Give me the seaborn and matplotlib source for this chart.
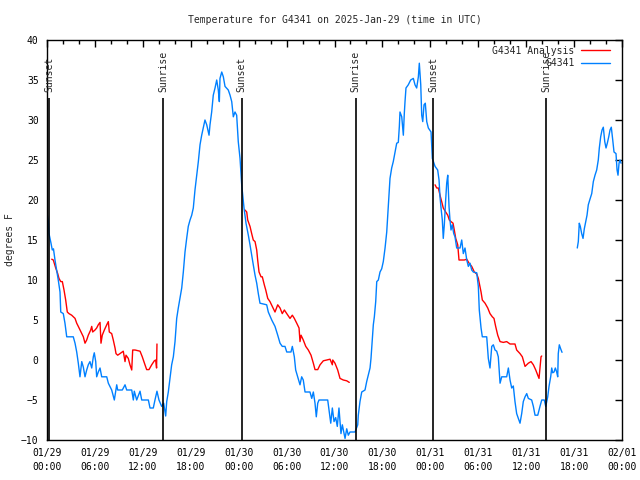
import matplotlib
matplotlib.use('Agg')
import matplotlib.pyplot as plt
import matplotlib.dates as mdates
from matplotlib.ticker import MultipleLocator
import numpy as np
import pandas as pd
import seaborn as sns

start = pd.Timestamp('2025-01-29 00:00')
nan = np.nan

# G4341 station: hours after 01/29 00:00 UTC, deg F (nan = gap in data)
obs_hours = [
    0.05, 0.16, 0.25, 0.5, 0.66, 0.81, 1.0, 1.21, 1.41, 1.63, 1.72, 2.04, 2.25, 2.47,
    3.29, 3.51, 3.72, 3.92, 4.13, 4.35, 4.55, 4.76, 4.97, 5.17, 5.38, 5.6, 5.8, 5.92,
    6.1, 6.22, 6.42, 6.64, 6.85, 7.48, 7.68, 8.1, 8.43, 8.73, 8.85, 9.43, 9.77, 9.98,
    10.61, 10.81, 10.93, 11.23, 11.65, 11.86, 12.69, 12.9, 13.31, 13.52, 13.77, 14.02,
    14.36, 14.61, 14.86, 14.99, 15.19, 15.4, 15.61, 15.82, 16.03, 16.24, 16.44, 16.65,
    16.87, 17.07, 17.28, 17.49, 17.69, 17.91, 18.12, 18.32, 18.53, 18.75, 18.95, 19.16,
    19.37, 19.57, 19.78, 20.0, 20.29, 20.41, 20.62, 20.82, 21.04, 21.25, 21.45, 21.58,
    21.66, 21.88, 22.08, 22.29, 22.7, 22.92, 23.13, 23.33, 23.54, 23.75, 23.95, 24.17,
    24.38, 24.51, 24.67, 24.92, 25.21, 25.42, 25.63, 25.83, 26.05, 26.26, 26.46, 26.67,
    27.51, 27.71, 28.14, 28.55, 28.89, 29.18, 29.46, 29.8, 30.02, 30.55, 30.72, 30.97,
    31.14, 31.39, 31.68, 31.89, 32.09, 32.31, 32.93, 33.15, 33.35, 33.56, 33.72, 33.9,
    34.06, 35.15, 35.31, 35.53, 35.73, 35.94, 36.15, 36.35, 36.56, 36.81, 36.98, 37.32,
    37.53, 37.73, 37.94, 38.57, 38.91, 38.98, 39.19, 39.41, 39.82, 40.03, 40.23, 40.45,
    40.57, 40.74, 40.86, 40.99, 41.16, 41.29, 41.49, 41.7, 41.91, 42.11, 42.33, 42.54,
    42.66, 42.83, 42.95, 43.16, 43.36, 43.58, 43.79, 43.99, 44.12, 44.2, 44.42, 44.62,
    44.74, 44.83, 44.95, 45.24, 45.54, 45.87, 46.08, 46.29, 46.5, 46.62, 46.8, 46.92,
    47.05, 47.21, 47.37, 47.55, 47.75, 48.09, 48.25, 48.59, 48.92, 49.09, 49.21, 49.34,
    49.5, 49.62, 49.75, 49.92, 50.05, 50.18, 50.34, 50.46, 50.59, 50.75, 50.93, 51.09,
    51.3, 51.72, 51.93, 52.13, 52.34, 52.56, 52.76, 52.97, 53.18, 53.38, 53.81, 54.01,
    54.13, 54.35, 54.51, 55.06, 55.26, 55.47, 55.69, 55.89, 56.1, 56.31, 56.51, 56.73,
    56.94, 57.56, 57.77, 57.98, 58.19, 58.39, 58.6, 58.81, 59.02, 59.23, 59.44, 59.64,
    59.86, 60.07, 60.27, 60.69, 60.9, 61.11, 61.45, 61.73, 61.95, 62.27, 62.45, 62.7,
    62.86, 63.07, 63.2, 63.32, 63.49, 63.65, 63.82, 63.95, 64.02, 64.15, 64.32, 64.49,
    65.4,
    66.4, 66.53, 66.65, 66.78, 66.95, 67.12, 67.28, 67.46, 67.62, 67.78, 67.99, 68.21,
    68.41, 68.62, 68.83, 69.03, 69.16, 69.33, 69.5, 69.66, 69.84, 70.0, 70.16, 70.34,
    70.5, 70.66, 70.84, 71.0, 71.25, 71.38, 71.5, 71.63, 71.75, 71.88,
]
obs_temps = [
    18.1, 17.4, 15.8, 14.6, 13.75, 13.9, 12.5, 11.25, 10.0, 8.5, 6.0, 5.8, 4.6, 2.9,
    2.9, 2.1, 1.0, -0.4, -2.1, -0.2, -0.9, -2.1, -1.25, -0.6, -0.2, -1.0, 0.4, 0.9,
    -0.2, -2.1, -1.5, -1.0, -2.1, -2.1, -2.9, -3.75, -5.0, -3.1, -3.75, -3.75, -3.1, -3.75,
    -3.75, -5.0, -3.9, -5.0, -3.9, -5.0, -5.0, -6.0, -6.0, -5.0, -3.9, -5.0,
    -5.8, -5.4, -7.0, -5.2, -4.0, -2.3, -0.6, 0.4, 2.3, 5.2, 6.5, 7.7,
    9.0, 11.0, 13.5, 15.2, 16.7, 17.5, 18.1, 19.0, 21.25, 23.1, 24.8, 26.9,
    28.1, 29.0, 30.0, 29.4, 28.1, 29.4, 31.0, 33.1, 34.0, 35.0, 33.75, 32.3,
    35.2, 36.0, 35.4, 34.2, 33.75, 33.1, 32.3, 30.4, 31.0, 30.6, 27.3, 25.2,
    21.9, 20.6, 19.0, 17.1, 15.6, 14.4, 13.1, 11.9, 10.6, 9.6, 8.3, 7.1,
    6.9, 6.0, 5.0, 4.2, 3.1, 2.1, 1.7, 1.7, 1.0, 1.0, 1.7, 0.4,
    -1.25, -2.1, -3.1, -2.1, -2.5, -4.0, -4.0, -4.8, -4.0, -5.4, -7.1, -5.4,
    -5.0, -5.0, -6.25, -7.9, -6.0, -7.7, -7.2, -8.3, -6.0, -9.2, -8.1, -9.8,
    -8.6, -9.4, -9.0, -9.0, -8.1, -6.9, -5.2, -4.0, -3.75, -2.7, -1.9, -1.0,
    0.2, 2.7, 4.4, 5.4, 7.3, 9.8, 10.0, 11.0, 11.4, 12.3, 14.0, 16.0,
    17.9, 20.6, 22.7, 24.0, 24.8, 26.0, 27.1, 27.2, 29.2, 31.0, 30.4, 28.1,
    30.8, 32.3, 34.0, 34.4, 35.0, 35.2, 34.4, 34.0, 35.4, 37.1, 34.4, 30.6,
    29.8, 31.9, 32.1, 29.8, 29.0, 28.5, 25.2, 24.2, 23.75, 22.5, 20.4, 19.0,
    17.5, 15.2, 16.9, 20.0, 22.1, 23.1, 19.2, 17.5, 16.25, 16.9, 15.8, 15.4,
    14.0, 14.0, 15.0, 13.3, 14.0, 12.5, 11.7, 12.1, 11.25, 11.0, 10.9, 9.2,
    6.25, 4.0, 2.9, 2.9, 0.2, -1.0, 1.7, 1.9, 1.25, 1.1, 0.4, -2.9,
    -2.1, -2.1, -1.0, -2.5, -3.5, -3.25, -5.2, -6.7, -7.3, -7.9, -6.7, -5.2,
    -4.6, -4.2, -4.8, -5.0, -5.8, -6.9, -6.9, -5.8, -5.0, -5.0, -5.8, -4.6,
    -3.3, -2.1, -1.0, -1.6, -1.5, -1.0, -1.5, -2.1, 0.8, 1.9, 1.4, 0.96,
    nan,
    14.0, 14.8, 17.1, 16.7, 15.8, 15.2, 16.4, 17.3, 18.1, 19.4, 20.1, 20.8,
    22.3, 23.1, 23.75, 25.0, 26.5, 27.9, 28.75, 29.1, 27.3, 26.5, 27.1, 27.9,
    28.75, 29.1, 27.5, 26.0, 25.8, 23.75, 23.1, 24.6, 25.0, 24.6,
]

# G4341 Analysis
ana_hours = [
    0.59, 0.79, 1.09, 1.34, 1.5, 1.72, 1.92, 2.13, 2.34, 2.54, 2.75, 3.09, 3.51, 3.72,
    3.92, 4.26, 4.55, 4.76, 4.97, 5.17, 5.47, 5.6, 5.72, 6.01, 6.22, 6.42, 6.64, 6.76,
    6.92, 7.18, 7.48, 7.68, 7.8, 8.1, 8.3, 8.52, 8.64, 8.85, 9.14, 9.55, 9.77, 9.89,
    10.18, 10.39, 10.61, 10.73, 11.02, 11.65, 11.93, 12.27, 12.48, 12.77, 13.11, 13.44,
    13.61, 13.72, 13.77,
    19.0,
    24.79, 25.01, 25.13, 25.42, 25.63, 25.83, 26.05, 26.26, 26.38, 26.55, 26.8, 26.96,
    27.21, 27.39, 27.64, 27.92, 28.21, 28.55, 28.89, 29.18, 29.46, 29.72, 30.02, 30.43,
    30.72, 30.97, 31.27, 31.56, 31.68, 31.81, 32.09, 32.4, 32.72, 33.06, 33.35, 33.56,
    33.9, 34.19, 34.6, 35.03, 35.44, 35.73, 35.78, 36.06, 36.4, 36.69, 37.1, 37.53,
    37.85,
    43.0,
    48.59, 48.8, 49.0, 49.21, 49.42, 49.62, 49.92, 50.18, 50.38, 50.59, 50.84, 51.0,
    51.18, 51.43, 51.59, 51.93, 52.26, 52.56, 52.85, 53.18, 53.51, 53.81, 54.01, 54.13,
    54.35, 54.51, 54.85, 55.19, 55.47, 55.76, 55.97, 56.18, 56.44, 56.73, 57.14, 57.56,
    57.98, 58.6, 58.81, 59.23, 59.52, 59.86, 60.27, 60.61, 60.9, 61.2, 61.45, 61.61,
    61.73, 61.86, 61.95,
]
ana_temps = [
    12.6, 12.5, 11.5, 10.8, 10.2, 9.8, 9.8, 8.75, 7.5, 6.0, 5.8, 5.6, 5.2, 4.6,
    4.2, 3.5, 2.9, 2.1, 2.5, 3.1, 3.75, 4.2, 3.5, 3.75, 4.0, 4.4, 4.7, 2.1,
    3.1, 3.75, 4.4, 4.8, 3.5, 3.3, 2.5, 1.5, 0.8, 0.6, 0.8, 1.1, -0.2, 0.6,
    0.2, -0.6, -1.25, 1.25, 1.25, 1.1, 0.4, -0.6, -1.2, -1.2, -0.6, -0.1,
    0.0, -1.0, 2.0,
    nan,
    18.75, 18.5, 17.5, 16.7, 15.8, 15.0, 14.8, 13.75, 12.5, 11.0, 10.4, 10.4,
    9.4, 8.75, 7.7, 7.3, 6.7, 6.0, 6.9, 6.5, 5.8, 6.25, 5.8, 5.2,
    5.6, 5.2, 4.6, 4.0, 2.3, 3.1, 2.5, 1.7, 1.25, 0.6, -0.4, -1.2,
    -1.2, -0.6, -0.1, 0.0, 0.1, -0.6, 0.0, -0.4, -1.25, -2.3, -2.5, -2.6,
    -2.8,
    nan,
    21.9, 21.5, 21.5, 20.6, 19.8, 19.0, 18.5, 18.1, 17.5, 17.3, 17.1, 16.25,
    15.2, 14.4, 12.5, 12.5, 12.5, 12.6, 12.1, 11.7, 11.0, 10.75, 10.2, 9.6,
    8.5, 7.5, 7.1, 6.5, 5.8, 5.4, 5.2, 4.2, 3.1, 2.3, 2.2, 2.3,
    2.0, 2.0, 1.25, 0.8, 0.4, -0.8, -0.4, -0.2, -0.6, -1.25, -1.9, -2.3,
    -1.0, 0.4, 0.5,
]

sunset_hours = [0.29, 24.36, 48.37]
sunrise_hours = [14.56, 38.66, 62.53]

series_names = ['G4341 Analysis', 'G4341']
series_colors = ['#ff0000', '#0080ff']


def to_frame(hours, temps, name):
    d = pd.DataFrame({'hours': hours, 'temp': temps})
    d['seg'] = d['temp'].isna().cumsum()
    d = d.dropna()
    d['time'] = start + pd.to_timedelta(d['hours'], unit='h')
    d['series'] = name
    return d


df = pd.concat([to_frame(ana_hours, ana_temps, series_names[0]),
                to_frame(obs_hours, obs_temps, series_names[1])], ignore_index=True)

sns.set_style('white')
plt.rcParams['font.family'] = ['DejaVu Sans Mono']
plt.rcParams['font.size'] = 7

fig, ax = plt.subplots(figsize=(6.4, 4.8), dpi=100)
fig.subplots_adjust(left=47/640, right=622/640, bottom=40/480, top=440/480)

sns.lineplot(data=df, x='time', y='temp', hue='series', units='seg', estimator=None,
             hue_order=series_names, palette=dict(zip(series_names, series_colors)),
             linewidth=1.0, ax=ax)

# sunrise / sunset markers
for hrs, name in [(sunset_hours, 'Sunset'), (sunrise_hours, 'Sunrise')]:
    for h in hrs:
        t = start + pd.Timedelta(hours=h)
        ax.vlines(t, -10, 32.75, color='black', linewidth=1.2, zorder=5)
        ax.text(t, 33.5, name, rotation=90, ha='center', va='bottom', fontsize=7)

ax.set_xlim(start, start + pd.Timedelta(days=3))
ax.set_ylim(-10, 40)
ax.yaxis.set_major_locator(MultipleLocator(5))
ax.xaxis.set_major_locator(mdates.HourLocator(byhour=[0, 6, 12, 18]))
ax.xaxis.set_minor_locator(mdates.HourLocator(byhour=range(0, 24, 2)))
ax.xaxis.set_major_formatter(mdates.DateFormatter('%m/%d\n%H:%M'))
ax.tick_params(which='both', direction='in', top=True, right=True, colors='black',
               labelsize=7, width=1)
ax.tick_params(which='major', length=5, pad=6)
ax.tick_params(which='minor', length=3)
for s in ax.spines.values():
    s.set_color('black')
    s.set_linewidth(1)

ax.set_xlabel('')
ax.set_ylabel('degrees F', fontsize=7)
ax.yaxis.set_label_coords(-0.056, 0.5)
ax.set_title('Temperature for G4341 on 2025-Jan-29 (time in UTC)', fontsize=7, pad=12)

handles, labels = ax.get_legend_handles_labels()
ax.legend(handles, labels, loc='upper right', bbox_to_anchor=(0.979, 0.986),
          frameon=False, markerfirst=False, handlelength=2.95, handletextpad=0.7,
          labelspacing=0.25, borderpad=0, borderaxespad=0, fontsize=7)

fig.canvas.draw()
for lab in ax.get_xticklabels():
    lab.set_linespacing(1.5)

fig.savefig('out.png', dpi=100)
